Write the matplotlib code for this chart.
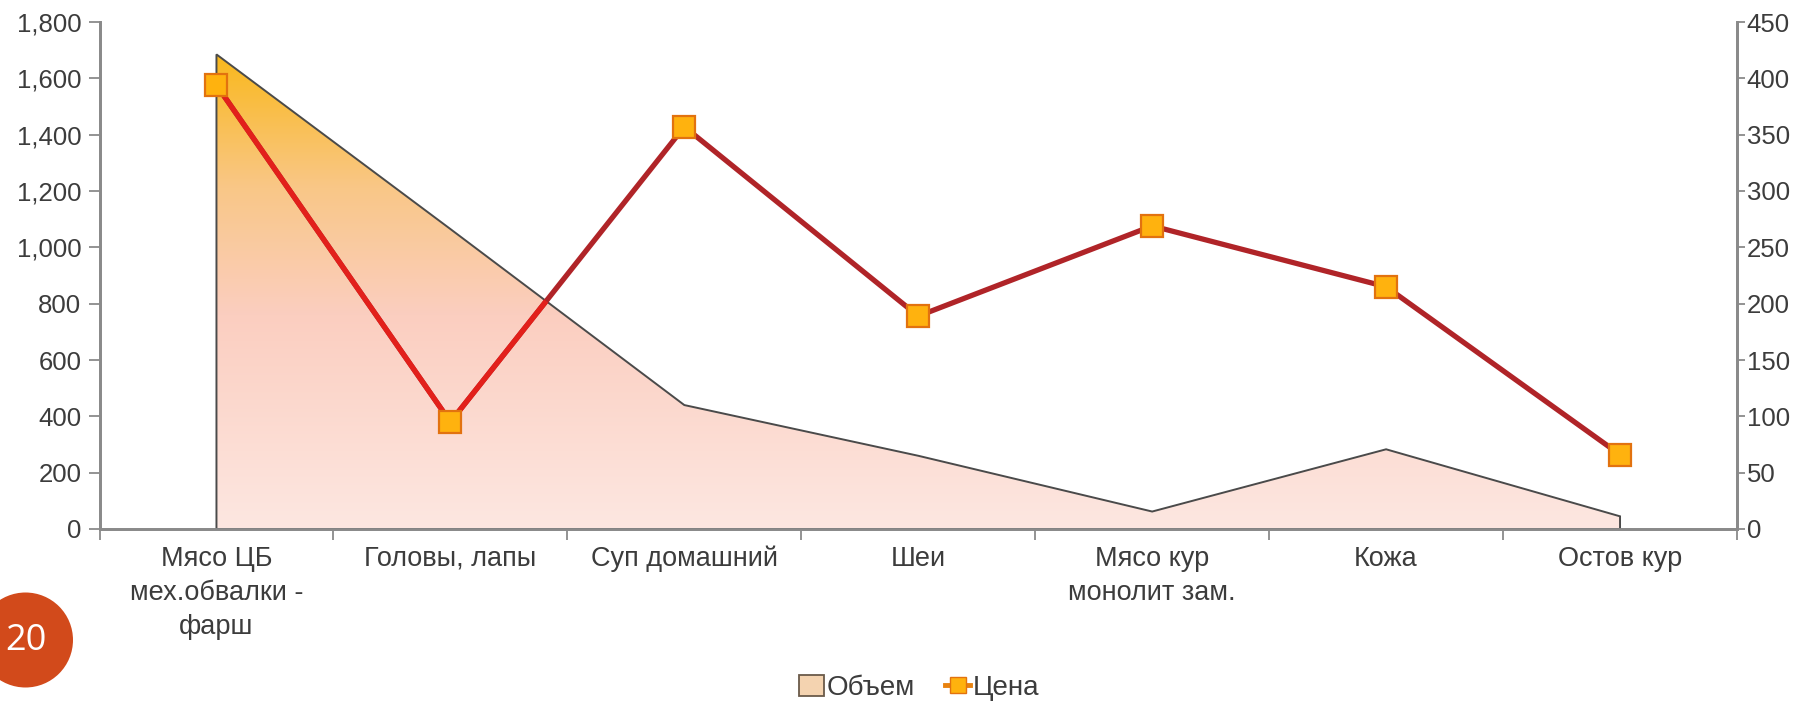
import matplotlib
matplotlib.use("Agg")
import matplotlib.pyplot as plt
import numpy as np
from matplotlib.colors import LinearSegmentedColormap
from matplotlib.lines import Line2D
from matplotlib.patches import Polygon, Patch, Circle

plt.rcParams['font.family'] = ['Liberation Sans', 'DejaVu Sans']

categories = ["Мясо ЦБ\nмех.обвалки -\nфарш", "Головы, лапы", "Суп домашний",
              "Шеи", "Мясо кур\nмонолит зам.", "Кожа", "Остов кур"]
volume = [1685, 1065, 440, 260, 62, 283, 45]
price = [394, 95, 357, 189, 269, 215, 66]
left_ticks = [0, 200, 400, 600, 800, 1000, 1200, 1400, 1600, 1800]
right_ticks = [0, 50, 100, 150, 200, 250, 300, 350, 400, 450]

W, H = 1813, 701
fig = plt.figure(figsize=(W / 100, H / 100), dpi=100)
ax = fig.add_axes([99.5 / W, 1 - 529 / H, (1737 - 99.5) / W, (529 - 22) / H])
ax2 = ax.twinx()

x = np.arange(len(categories))
txt_col = '#3c3c3c'
spine_col = '#8a8a8a'
fs = 18.5
fs_cat = 19.5

# area with gradient
verts = [(x[0], 0)] + list(zip(x, volume)) + [(x[-1], 0)]
poly = Polygon(verts, closed=True, facecolor='none', edgecolor='#4a4a4a', lw=1.4, zorder=3)
ax.add_patch(poly)
cmap = LinearSegmentedColormap.from_list('g', [(0, '#FDE7E1'), (0.45, '#FBCEC0'),
                                               (0.72, '#F9C787'), (1.0, '#FAB81C')])
grad = np.linspace(0, 1, 256).reshape(-1, 1)
im = ax.imshow(grad, cmap=cmap, origin='lower', aspect='auto',
               extent=[x[0], x[-1], 0, max(volume)], zorder=2, interpolation='bicubic')
clip = Polygon(verts, closed=True, transform=ax.transData, facecolor='none', edgecolor='none')
im.set_clip_path(clip)

ax.set_xlim(-0.5, len(categories) - 0.5)
ax.set_ylim(0, 1800)
ax.set_yticks(left_ticks)
ax.set_yticklabels([f"{v:,}" for v in left_ticks])
ax.set_xticks(x)
ax.set_xticklabels(categories, linespacing=1.42)
ax.set_xticks(np.arange(-0.5, len(categories)), minor=True)
ax.tick_params(axis='x', which='major', length=0, pad=12, labelsize=fs_cat, labelcolor=txt_col)
ax.tick_params(axis='x', which='minor', length=8, width=1.3, color=spine_col)
ax.tick_params(axis='y', length=8, width=1.3, color=spine_col, labelsize=fs, labelcolor=txt_col, pad=5)

ax2.set_ylim(0, 450)
ax2.set_yticks(right_ticks)
ax2.tick_params(axis='y', length=6, width=1.3, color=spine_col, labelsize=fs, labelcolor=txt_col, pad=1)

for a in (ax, ax2):
    a.spines['top'].set_visible(False)
    for s in ('left', 'right', 'bottom'):
        a.spines[s].set_color(spine_col)
        a.spines[s].set_linewidth(2)

# price line
ax2.plot(x, price, color='#B02428', lw=3.8, zorder=4)
l2, = ax2.plot(x, price, color='#E2201B', lw=3.8, zorder=5)
clip2 = Polygon(verts, closed=True, transform=ax.transData, facecolor='none', edgecolor='none')
l2.set_clip_path(clip2)
ax2.plot(x, price, linestyle='none', marker='s', markersize=16, markerfacecolor='#FFB20E',
         markeredgecolor='#E2720F', markeredgewidth=1.6, zorder=6, clip_on=False)
ax.set_zorder(1)
ax2.set_zorder(2)
ax2.patch.set_visible(False)

# legend
h1 = Patch(facecolor='#F4D3B0', edgecolor='#6a5a4a', lw=1.3)
h2 = Line2D([], [], color='#E8820F', lw=3.5, marker='s', markersize=12,
            markerfacecolor='#FFB20E', markeredgecolor='#E2720F')
fig.legend([h1, h2], ['Объем', 'Цена'], loc='center', bbox_to_anchor=(919 / W, 1 - 688 / H),
           ncol=2, frameon=False, fontsize=20, handlelength=0.9, handleheight=0.8,
           handletextpad=0.1, columnspacing=1.1, labelcolor=txt_col)

# page number circle
circ = Circle((25.5, H - 640), 47.5, transform=None, facecolor='#D24A1B', edgecolor='none')
fig.patches.append(circ)
fig.text(25.5 / W, 1 - 641 / H, '20', color='white', fontsize=26, ha='center', va='center',
         family=['Open Sans', 'DejaVu Sans'])

fig.savefig('out.png', dpi=100)
